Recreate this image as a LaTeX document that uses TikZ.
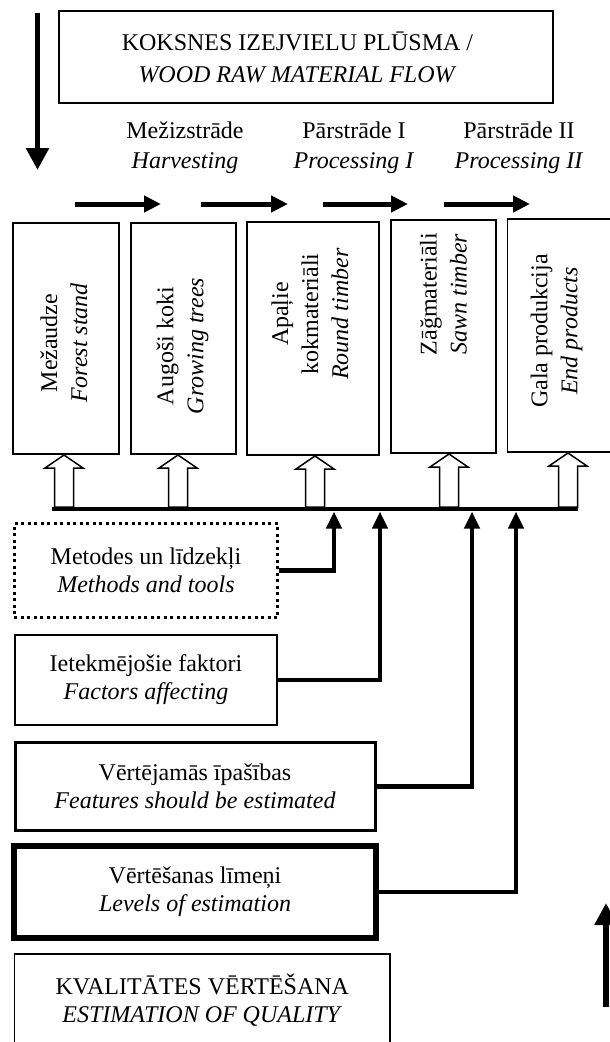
\documentclass[tikz,border=0pt]{standalone}
\usepackage{fontspec}
\setmainfont{Liberation Serif}
\usetikzlibrary{arrows.meta,calc}
\begin{document}
\begin{tikzpicture}[x=1pt,y=-1pt,
  every node/.style={font=\fontsize{24}{28}\selectfont},
  box/.style={draw, line width=1.6pt, inner sep=0pt, outer sep=0pt, rectangle},
  txt/.style={align=center, inner sep=0pt},
  rtxt/.style={align=center, inner sep=0pt, rotate=90, font=\fontsize{24}{30}\selectfont},
  flow/.style={line width=5pt, -{Triangle[length=17pt,width=16pt]}},
  bigarrow/.style={line width=5.5pt, -{Triangle[length=22pt,width=22pt]}},
  conn/.style={line width=4.5pt, -{Triangle[length=17pt,width=15pt]}},
  hollow/.style={draw, fill=white, line width=1.5pt, line join=miter},
]
\useasboundingbox (0,0) rectangle (610,1042);

% top box
\node[box, minimum width=494pt, minimum height=92pt] (top) at (306,57) {};
\node[txt, font=\fontsize{24}{32}\selectfont] (toptext) at (297.5,57) {KOKSNES IZEJVIELU PLŪSMA /\\\textit{WOOD RAW MATERIAL FLOW}};

% down arrow
\coordinate (dA) at (37.5,13);
\coordinate (dB) at (37.5,170);
\draw[bigarrow] (dA) -- (dB);

% stage labels
\node[txt, font=\fontsize{24}{30}\selectfont] (l1) at (185,148) {Mežizstrāde\\\textit{Harvesting}};
\node[txt, font=\fontsize{24}{30}\selectfont] (l2) at (354,148) {Pārstrāde I\\\textit{Processing I}};
\node[txt, font=\fontsize{24}{30}\selectfont] (l3) at (519,148) {Pārstrāde II\\\textit{Processing II}};

% flow arrows
\coordinate (h1s) at (75,204);  \coordinate (h1e) at (161,204);
\coordinate (h2s) at (201,204); \coordinate (h2e) at (288,204);
\coordinate (h3s) at (323,204); \coordinate (h3e) at (408,204);
\coordinate (h4s) at (444,204); \coordinate (h4e) at (530,204);
\draw[flow] (h1s) -- (h1e);
\draw[flow] (h2s) -- (h2e);
\draw[flow] (h3s) -- (h3e);
\draw[flow] (h4s) -- (h4e);

% stage boxes
\node[box, minimum width=106pt, minimum height=231pt] (b1) at (66,338.5) {};
\node[box, minimum width=105.5pt, minimum height=231pt] (b2) at (183.5,338.5) {};
\node[box, minimum width=132pt, minimum height=233pt] (b3) at (313,338.5) {};
\node[box, minimum width=105pt, minimum height=233pt] (b4) at (443.3,336.5) {};
\node[box, minimum width=104pt, minimum height=233pt] (b5) at (559.5,335.5) {};

\node[rtxt] (t1) at (64,343) {Mežaudze\\\textit{Forest stand}};
\node[rtxt] (t2) at (182.5,346) {Augoši koki\\\textit{Growing trees}};
\node[rtxt] (t3) at (310,314) {Apaļie\\kokmateriāli\\\textit{Round timber}};
\node[rtxt] (t4) at (443.5,294) {Zāğmateriāli\\\textit{Sawn timber}};
\node[rtxt] (t5) at (556.5,331) {Gala produkcija\\\textit{End products}};

% hollow arrows
\foreach \cx/\ty in {64/455,178/455,315/456,449/454,568/453}{
  \draw[hollow] (\cx-9.5,507) -- (\cx-9.5,\ty+13) -- (\cx-19,\ty+13) -- (\cx,\ty)
     -- (\cx+19,\ty+13) -- (\cx+9.5,\ty+13) -- (\cx+9.5,507) -- cycle;
}

% bus bar
\coordinate (busL) at (52,509);
\coordinate (busR) at (578,509);
\draw[line width=4.5pt] (busL) -- (busR);

% lower boxes
\node[draw, line width=3pt, dash pattern=on 3pt off 3.5pt, inner sep=0pt,
  minimum width=263.5pt, minimum height=94pt, align=center] (meth) at (146,570.5)
  {Metodes un līdzekļi\\\textit{Methods and tools}};
\node[box, minimum width=262.5pt, minimum height=90pt, align=center] (fact) at (146,680)
  {Ietekmējošie faktori\\\textit{Factors affecting}};
\node[box, line width=3pt, minimum width=360pt, minimum height=88pt, align=center] (feat) at (195,786.5)
  {Vērtējamās īpašības\\\textit{Features should be estimated}};
\node[box, line width=6pt, minimum width=362pt, minimum height=92pt, align=center] (lev) at (195,892)
  {Vērtēšanas līmeņi\\\textit{Levels of estimation}};
\node[box, minimum width=375.5pt, minimum height=92pt, align=center] (kval) at (202.3,1000)
  {KVALITĀTES VĒRTĒŠANA\\\textit{ESTIMATION OF QUALITY}};

% connectors
\coordinate (m1) at (334,511.5);
\coordinate (m2) at (380,511.5);
\coordinate (m3) at (472,511.5);
\coordinate (m4) at (516,511.5);
\draw[conn] (meth.east) -| (m1);
\draw[conn] (fact.east) -| (m2);
\draw[conn] (feat.east) -| (m3);
\draw[conn] (lev.east) -| (m4);

% up arrow
\coordinate (uA) at (606,1007);
\coordinate (uB) at (606,903);
\draw[bigarrow] (uA) -- (uB);
\end{tikzpicture}
\end{document}
